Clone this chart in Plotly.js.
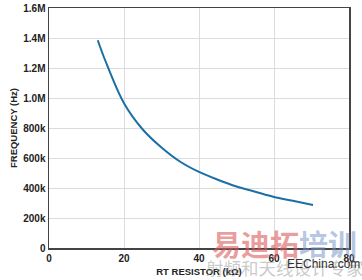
<!DOCTYPE html>
<html><head><meta charset="utf-8">
<script src="https://cdn.plot.ly/plotly-3.0.1.min.js"></script>
<style>html,body{margin:0;padding:0;background:#fff}#c{width:362px;height:280px}</style>
</head><body><div id="c"></div>
<script>
var rtResistor = [13, 15, 20, 25, 30, 35, 40, 45, 50, 55, 60, 65, 70.4];
var frequency = [1385000, 1250000, 965000, 790000, 670000, 575000, 507000, 455000, 410000, 375000, 340000, 315000, 287000];
var yTickVals = [0, 200000, 400000, 600000, 800000, 1000000, 1200000, 1400000, 1600000];
var yTickText = ['0', '200k', '400k', '600k', '800k', '1.0M', '1.2M', '1.4M', '1.6M'];
var xTickVals = [0, 20, 40, 60, 80];

var fontBold = 'Liberation Sans, Arial, sans-serif';
Plotly.newPlot('c', [{
  x: rtResistor, y: frequency, type: 'scatter', mode: 'lines',
  line: {color: '#1b6fa6', width: 2, shape: 'spline'}, hoverinfo: 'none'
}], {
  width: 362, height: 280,
  margin: {l: 49, r: 13, t: 8, b: 32},
  paper_bgcolor: '#fff', plot_bgcolor: '#fff',
  showlegend: false,
  font: {family: fontBold, color: '#222'},
  xaxis: {
    range: [0, 80], tickvals: xTickVals, ticks: '', showgrid: true, gridcolor: '#dcdcdc', gridwidth: 1,
    showline: true, linecolor: '#444', linewidth: 1.5, mirror: true, zeroline: false,
    tickfont: {size: 10, family: fontBold, weight: 'bold', color: '#222'},
    title: {text: '<b>RT RESISTOR (kΩ)</b>', font: {size: 9.5, family: fontBold, color: '#222'}, standoff: 6}
  },
  yaxis: {
    range: [0, 1600000], tickvals: yTickVals, ticktext: yTickText, ticks: '', showgrid: true, gridcolor: '#dcdcdc', gridwidth: 1,
    showline: true, linecolor: '#444', linewidth: 1.5, mirror: true, zeroline: false,
    tickfont: {size: 10, family: fontBold, weight: 'bold', color: '#222'},
    title: {text: '<b>FREQUENCY (Hz)</b>', font: {size: 9.5, family: fontBold, color: '#222'}, standoff: 4}
  },
  annotations: [
    {xref: 'paper', yref: 'paper', x: 0.535, y: 0.019, xanchor: 'left', yanchor: 'middle', showarrow: false,
     text: '<span style="color:rgba(220,90,90,0.6)">易迪拓</span><span style="color:rgba(120,150,200,0.55)">培训</span>',
     font: {size: 29, family: 'Noto Sans CJK SC', weight: 'bold'}},
    {xref: 'paper', yref: 'paper', x: 0.515, y: -0.081, xanchor: 'left', yanchor: 'middle', showarrow: false,
     text: '射频和天线设计专家', font: {size: 17.5, family: 'Noto Sans CJK SC', color: 'rgba(150,150,150,0.5)'}},
    {xref: 'paper', yref: 'paper', x: 0.787, y: -0.067, xanchor: 'left', yanchor: 'middle', showarrow: false,
     text: 'EEChina.com', font: {size: 12, family: 'Liberation Sans', color: '#333'}}
  ]
}, {staticPlot: true});
</script></body></html>
